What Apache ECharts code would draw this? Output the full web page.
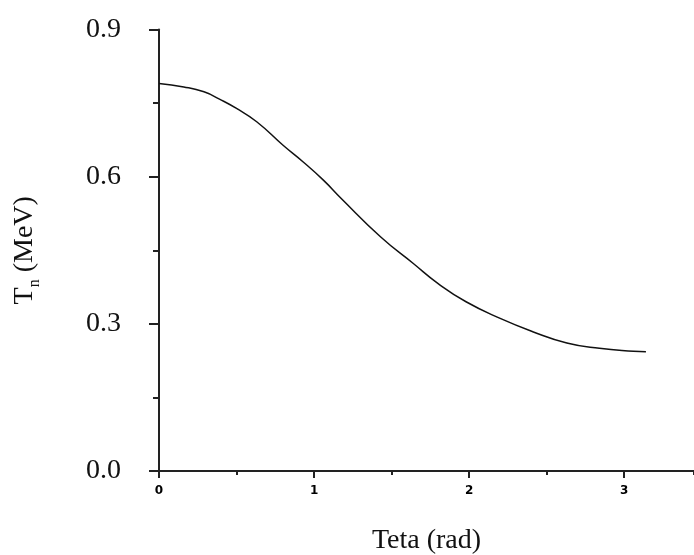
<!DOCTYPE html>
<html>
<head>
<meta charset="utf-8">
<script src="https://cdn.jsdelivr.net/npm/echarts@6/dist/echarts.min.js"></script>
<style>
html,body{margin:0;padding:0;background:#fff;}
#chart{width:694px;height:555px;}
</style>
</head>
<body>
<div id="chart"></div>
<script>
// Data
var thetaValues = [0, 0.16, 0.29, 0.39, 0.50, 0.63, 0.80, 0.93, 1.06, 1.18, 1.43, 1.64, 1.80, 1.98, 2.20, 2.41, 2.63, 2.84, 3.06, 3.14];
var tnValues    = [0.790, 0.783, 0.773, 0.758, 0.739, 0.712, 0.664, 0.630, 0.593, 0.554, 0.477, 0.423, 0.382, 0.345, 0.311, 0.284, 0.261, 0.250, 0.244, 0.243];
var yTicks = [0.0, 0.3, 0.6, 0.9];
var xTicks = [0, 1, 2, 3];
var xTitle = 'Teta (rad)';
var yTitleMain = 'T';
var yTitleSub = 'n';
var yTitleRest = ' (MeV)';

var points = thetaValues.map(function (t, i) { return [t, tnValues[i]]; });

var axisColor = '#222';
var chart = echarts.init(document.getElementById('chart'));
chart.setOption({
  animation: false,
  backgroundColor: '#fff',
  grid: { left: 159, right: 0, top: 29.5, bottom: 84, containLabel: false, outerBoundsMode: 'none' },
  xAxis: [
    {
      type: 'value', position: 'bottom', min: xTicks[0], max: 3.45, interval: 0.5,
      axisLine: { show: true, onZero: false, lineStyle: { color: axisColor, width: 2 } },
      axisTick: { show: true, length: 4, lineStyle: { color: axisColor, width: 2 } },
      axisLabel: { show: false },
      splitLine: { show: false },
      name: xTitle, nameLocation: 'middle', nameGap: 56,
      nameTextStyle: { fontFamily: 'Liberation Serif', fontSize: 28, color: '#111' }
    },
    {
      type: 'value', position: 'bottom', offset: 0, min: xTicks[0], max: 3.45, interval: 1,
      axisLine: { show: false, onZero: false },
      axisTick: { show: true, length: 7, lineStyle: { color: axisColor, width: 2 } },
      axisLabel: {
        show: true, margin: 14, showMaxLabel: false,
        fontFamily: 'DejaVu Sans', fontWeight: 'bold', fontSize: 12, color: '#000',
        formatter: function (v) { return xTicks.indexOf(v) >= 0 ? String(v) : ''; }
      },
      splitLine: { show: false }
    }
  ],
  yAxis: {
    type: 'value', min: yTicks[0], max: yTicks[yTicks.length - 1], interval: 0.3,
    axisLine: { show: true, onZero: false, lineStyle: { color: axisColor, width: 2 } },
    axisTick: { show: true, length: 10, lineStyle: { color: axisColor, width: 2 } },
    minorTick: { show: true, splitNumber: 2, length: 6, lineStyle: { color: axisColor, width: 2 } },
    axisLabel: {
      margin: 38, fontFamily: 'Liberation Serif', fontSize: 28, color: '#111',
      formatter: function (v) { return v.toFixed(1); }
    },
    splitLine: { show: false },
    name: '{m|' + yTitleMain + '}{s|' + yTitleSub + '}{m|' + yTitleRest + '}',
    nameLocation: 'middle', nameGap: 120, nameRotate: 90,
    nameTextStyle: {
      rich: {
        m: { fontFamily: 'Liberation Serif', fontSize: 28, color: '#111' },
        s: { fontFamily: 'Liberation Serif', fontSize: 16, color: '#111', verticalAlign: 'bottom', padding: [0, 0, -4, 0] }
      }
    }
  },
  series: [{
    type: 'line',
    xAxisIndex: 0,
    data: points,
    smooth: 0.5,
    showSymbol: false,
    lineStyle: { color: '#111', width: 1.5 }
  }]
});
</script>
</body>
</html>
